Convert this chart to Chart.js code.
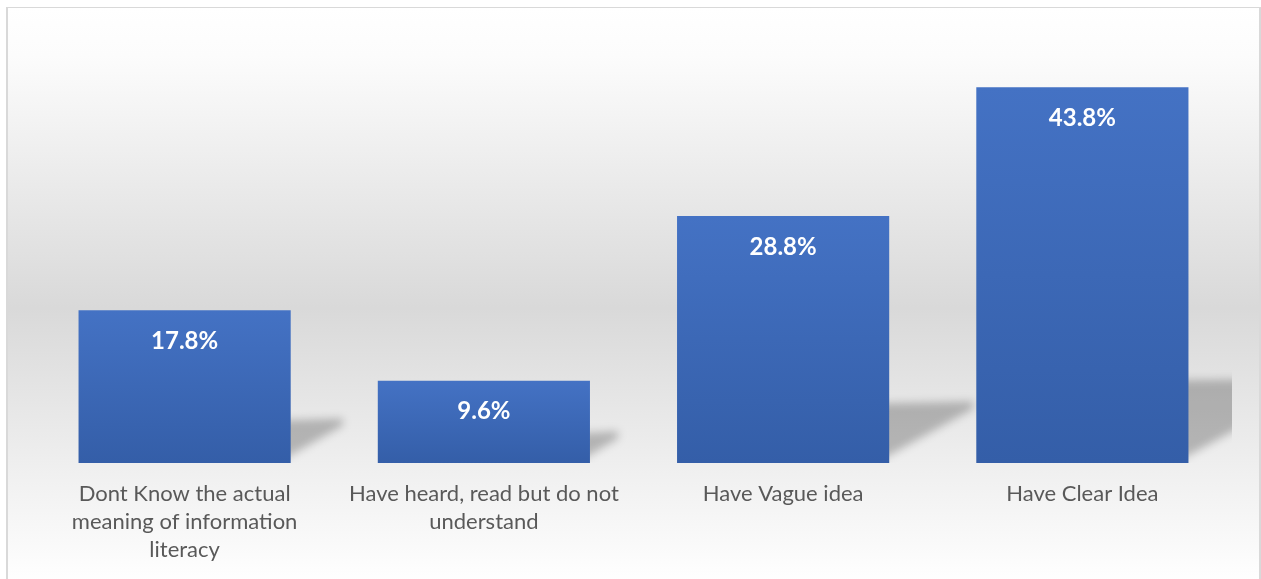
<!DOCTYPE html>
<html>
<head>
<meta charset="utf-8">
<script src="https://cdn.jsdelivr.net/npm/chart.js@4"></script>
<style>
  html, body { margin: 0; padding: 0; background: #fff; overflow: hidden; }
  #frame {
    position: absolute; left: 6px; top: 7px; width: 1251px; height: 600px;
    border: 2px solid #d9d9d9; border-top-width: 1px;
    background: linear-gradient(to bottom, #ffffff 0%, #fcfcfc 8%, #d9d9d9 50%, #f2f2f2 80%, #ffffff 96%);
  }
  #wrap { position: absolute; left: 0; top: 0; width: 1261px; height: 579px; }
</style>
</head>
<body>
<div id="frame"></div>
<div id="wrap"><canvas id="chart" width="1261" height="579"></canvas></div>
<script>
// categories (pre-wrapped the way the picture shows them)
const categories = [
    ['Dont Know the actual', 'meaning of information', 'literacy'],
    ['Have heard, read but do not', 'understand'],
    ['Have Vague idea'],
    ['Have Clear Idea']
];
const percentValues = [17.8, 9.6, 28.8, 43.8];

// Soft perspective shadow to the right of each bar
const barShadows = {
    id: 'barShadows',
    beforeDatasetsDraw(chart) {
        const { ctx, chartArea } = chart;
        const meta = chart.getDatasetMeta(0);
        ctx.save();
        ctx.beginPath();
        ctx.rect(chartArea.left, chartArea.top, chartArea.right - chartArea.left, chartArea.bottom - chartArea.top);
        ctx.clip();
        ctx.filter = 'blur(4px)';
        ctx.fillStyle = 'rgba(0,0,0,0.24)';
        meta.data.forEach(bar => {
            const h = bar.base - bar.y;
            const right = bar.x + bar.width / 2;
            const sw = h * 0.34;
            const sh = 15 + h * 0.18;
            ctx.beginPath();
            ctx.moveTo(right - 12, bar.base - sh);
            ctx.lineTo(right + sw, bar.base - sh - 2);
            ctx.lineTo(right + sw, bar.base - sh + 5);
            ctx.lineTo(right - 12, bar.base - 1);
            ctx.closePath();
            ctx.fill();
        });
        ctx.restore();
    }
};

// Value labels inside the top of each bar
const valueLabels = {
    id: 'valueLabels',
    afterDatasetsDraw(chart) {
        const { ctx } = chart;
        const meta = chart.getDatasetMeta(0);
        ctx.save();
        ctx.fillStyle = '#ffffff';
        ctx.font = 'bold 24px Lato, "Open Sans", sans-serif';
        ctx.textAlign = 'center';
        ctx.textBaseline = 'middle';
        meta.data.forEach((bar, i) => {
            ctx.fillText(percentValues[i].toFixed(1) + '%', bar.x, bar.y + 31);
        });
        ctx.restore();
    }
};

const ctx = document.getElementById('chart').getContext('2d');
new Chart(ctx, {
    type: 'bar',
    data: {
        labels: categories,
        datasets: [{
            data: percentValues,
            backgroundColor: (c) => {
                const chart = c.chart;
                const area = chart.chartArea;
                const yScale = chart.scales.y;
                if (!area || !yScale || c.raw === undefined) return '#4472c4';
                const top = yScale.getPixelForValue(c.raw);
                const g = chart.ctx.createLinearGradient(0, top, 0, area.bottom);
                g.addColorStop(0, '#4472c4');
                g.addColorStop(1, '#345ea8');
                return g;
            },
            borderWidth: 0,
            barPercentage: 0.709,
            categoryPercentage: 1.0
        }]
    },
    options: {
        responsive: false,
        animation: false,
        events: [],
        layout: { padding: { left: 35, right: 29, top: 34, bottom: 0 } },
        plugins: {
            legend: { display: false },
            tooltip: { enabled: false }
        },
        scales: {
            x: {
                grid: { display: false, drawTicks: false },
                border: { display: false },
                ticks: {
                    color: '#595959',
                    font: { family: 'Lato, "Open Sans", sans-serif', size: 22, lineHeight: 1.28 },
                    padding: 17,
                    maxRotation: 0,
                    autoSkip: false
                },
                afterFit(scale) { scale.height = 116; }
            },
            y: {
                display: false,
                min: 0,
                max: 50
            }
        }
    },
    plugins: [barShadows, valueLabels]
});
</script>
</body>
</html>
